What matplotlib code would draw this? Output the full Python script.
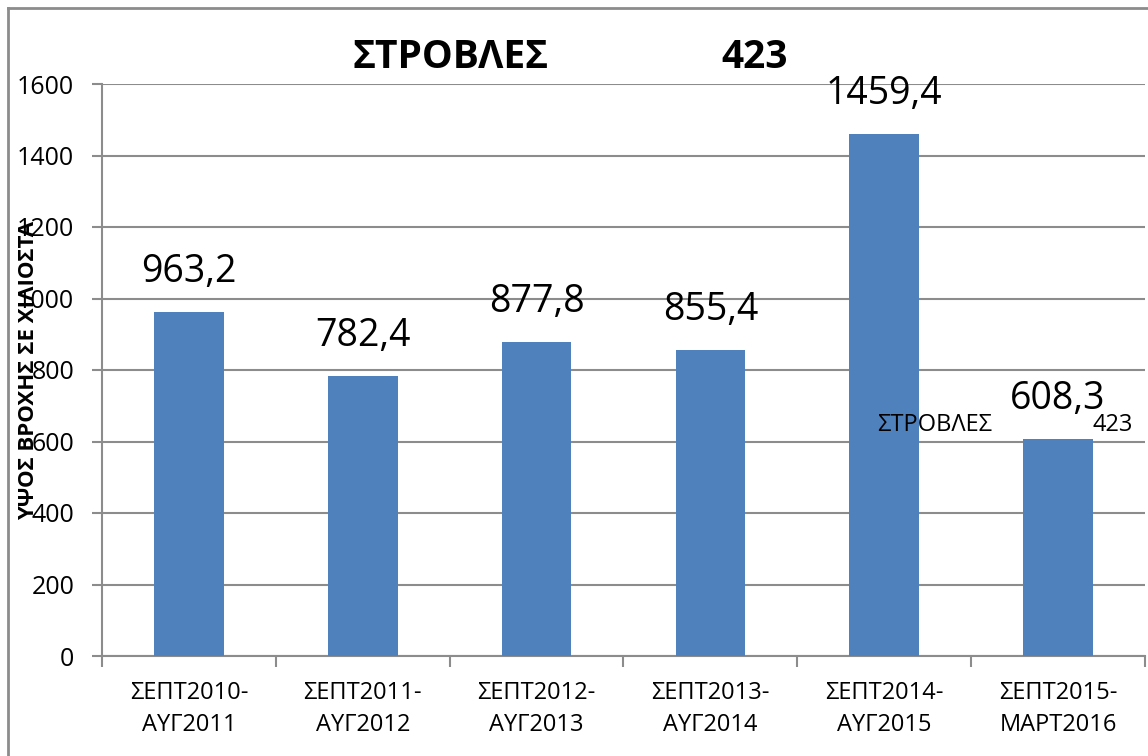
import numpy as np
import matplotlib
matplotlib.use('Agg')
import matplotlib.pyplot as plt
from matplotlib.lines import Line2D

plt.rcParams['font.family'] = ['Open Sans', 'DejaVu Sans']

# rainfall per hydrological year (mm)
periods = ['ΣΕΠΤ2010-\nΑΥΓ2011', 'ΣΕΠΤ2011-\nΑΥΓ2012', 'ΣΕΠΤ2012-\nΑΥΓ2013',
           'ΣΕΠΤ2013-\nΑΥΓ2014', 'ΣΕΠΤ2014-\nΑΥΓ2015', 'ΣΕΠΤ2015-\nΜΑΡΤ2016']
rain = [963.2, 782.4, 877.8, 855.4, 1459.4, 608.3]
value_labels = ['963,2', '782,4', '877,8', '855,4', '1459,4', '608,3']
yticks = [0, 200, 400, 600, 800, 1000, 1200, 1400, 1600]

station = 'ΣΤΡΟΒΛΕΣ'
station_code = '423'
ylabel = 'ΥΨΟΣ ΒΡΟΧΗΣ ΣΕ ΧΙΛΙΟΣΤΑ'

W, H = 1148, 756
fig = plt.figure(figsize=(W / 100, H / 100), dpi=100)
ax = fig.add_axes([102 / W, 1 - 656 / H, 1043 / W, (656 - 84) / H])

barColor = '#4F81BD'
gridColor = '#8C8C8C'

x = np.arange(len(rain))
ax.bar(x, rain, width=0.4, color=barColor, zorder=3)

# value labels above bars
for xi, v, lab in zip(x, rain, value_labels):
    ax.annotate(lab, (xi, v), xytext=(0, 15), textcoords='offset points',
                ha='center', va='bottom', fontsize=27, color='black')

ax.set_xlim(-0.5, len(rain) - 0.5)
ax.set_ylim(0, 1600)
ax.set_yticks(yticks)
ax.set_yticklabels([str(t) for t in yticks], fontsize=18)
ax.yaxis.grid(True, color=gridColor, linewidth=1.5, zorder=0)
ax.tick_params(axis='y', length=7, width=1.5, color=gridColor, pad=13)

# category labels at centres, tick marks at boundaries
ax.set_xticks(x)
ax.set_xticklabels(periods, fontsize=17, linespacing=1.45)
ax.tick_params(axis='x', which='major', length=0, pad=18)
ax.set_xticks(np.arange(-0.5, len(rain) + 0.5, 1), minor=True)
ax.tick_params(axis='x', which='minor', length=8, width=1.5, color=gridColor)

for s in ['top', 'right']:
    ax.spines[s].set_visible(False)
for s in ['left', 'bottom']:
    ax.spines[s].set_color(gridColor)
    ax.spines[s].set_linewidth(1.5)

ax.set_ylabel(ylabel, fontsize=16, fontweight='bold')
ax.yaxis.set_label_coords(-0.060, 0.5)

# stray series name / value labels
ax.text(3.96, 646, station, fontsize=17, ha='left', va='center')
ax.text(5.20, 646, station_code, fontsize=17, ha='left', va='center')

# title
fig.text(352 / W, 1 - 58 / H, station, fontsize=28, fontweight='bold',
         ha='left', va='center')
fig.text(788 / W, 1 - 58 / H, station_code, fontsize=28, fontweight='bold',
         ha='right', va='center')

# chart border
fig.add_artist(Line2D([8 / W, 8 / W], [0, 1 - 8 / H], color=gridColor, lw=2,
                      transform=fig.transFigure))
fig.add_artist(Line2D([8 / W, 1], [1 - 8 / H, 1 - 8 / H], color=gridColor, lw=2,
                      transform=fig.transFigure))

fig.savefig('out.png', dpi=100)
